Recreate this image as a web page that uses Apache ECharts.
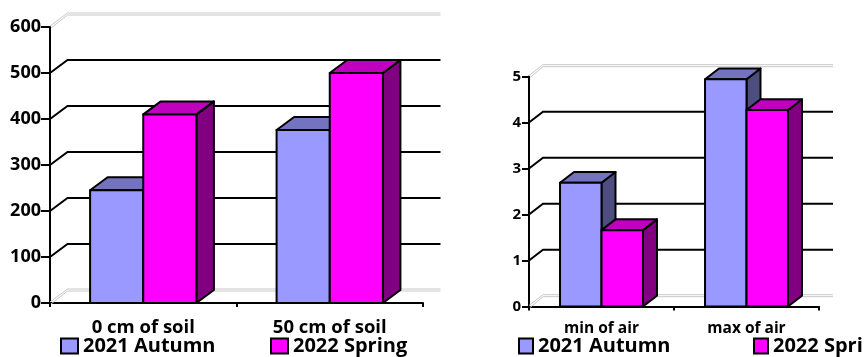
<!DOCTYPE html>
<html>
<head>
<meta charset="utf-8">
<script src="https://cdn.jsdelivr.net/npm/echarts@6/dist/echarts.min.js"></script>
<style>
  html, body { margin: 0; padding: 0; background: #fff; }
  #chart { width: 864px; height: 357px; }
</style>
</head>
<body>
<div id="chart"></div>
<script>
// Soil measurements (left panel)
const soilCategories = ['0 cm of soil', '50 cm of soil'];
const soilAutumn2021 = [245, 376];
const soilSpring2022 = [410, 500];
const soilTicks = [0, 100, 200, 300, 400, 500, 600];

// Air measurements (right panel)
const airCategories = ['min of air', 'max of air'];
const airAutumn2021 = [2.69, 4.94];
const airSpring2022 = [1.66, 4.27];
const airTicks = [0, 1, 2, 3, 4, 5];

const seriesNames = ['2021 Autumn', '2022 Spring'];

const FONT = 'Open Sans';
const FACES = [
  { front: '#9999FF', top: '#7373BF', side: '#4D4D80' },
  { front: '#FF00FF', top: '#BF00BF', side: '#800080' }
];

// Panel geometry: plot box, 3D depth offset, bar width as share of a category band
const PANELS = [
  { grid: { left: 50, top: 27, width: 373, height: 276 }, depth: [17.5, -13], ratio: 0.285,
    yLabelSize: 18, yLabelMargin: 9, yTickLen: 9, xLabelSize: 18.5, xLabelMargin: 15 },
  { grid: { left: 529, top: 76.5, width: 290, height: 230 }, depth: [14, -10.8], ratio: 0.286,
    yLabelSize: 15, yLabelMargin: 8, yTickLen: 7, xLabelSize: 15.5, xLabelMargin: 14 }
];

function barRenderer(slot, face, depth, ratio) {
  return function (params, api) {
    const cat = api.value(0);
    const val = api.value(1);
    const base = api.coord([cat, 0]);
    const top = api.coord([cat, val]);
    const band = api.size([1, 0])[0];
    const w = band * ratio;
    const x0 = base[0] - w + slot * w;
    const x1 = x0 + w;
    const dx = depth[0], dy = depth[1];
    const ty = top[1], by = base[1];
    const edge = { stroke: '#000', lineWidth: 2, lineJoin: 'round' };
    return {
      type: 'group',
      children: [
        { type: 'polygon', shape: { points: [[x1, ty], [x1 + dx, ty + dy], [x1 + dx, by + dy], [x1, by]] },
          style: Object.assign({ fill: face.side }, edge) },
        { type: 'polygon', shape: { points: [[x0, ty], [x0 + dx, ty + dy], [x1 + dx, ty + dy], [x1, ty]] },
          style: Object.assign({ fill: face.top }, edge) },
        { type: 'rect', shape: { x: x0, y: ty, width: w, height: by - ty },
          style: Object.assign({ fill: face.front }, edge) }
      ]
    };
  };
}

// Back-wall gridlines with the diagonal running along the side wall
function wallRenderer(depth, maxVal) {
  return function (params, api) {
    const v = api.value(1);
    const cs = params.coordSys;
    const y = api.coord([0, v])[1];
    const dx = depth[0], dy = depth[1];
    const x0 = cs.x, x1 = cs.x + cs.width;
    if (v !== 0 && v !== maxVal) {
      return {
        type: 'polyline',
        shape: { points: [[x0, y], [x0 + dx, y + dy], [x1 + dx, y + dy]] },
        style: { stroke: '#000', lineWidth: 2, fill: null }
      };
    }
    const light = { stroke: '#C8C8C8', lineWidth: 1, fill: null };
    return {
      type: 'group',
      children: [
        { type: 'polyline', shape: { points: [[x0, y - 1], [x0 + dx, y + dy - 1], [x1 + dx, y + dy - 1]] }, style: light },
        { type: 'polyline', shape: { points: [[x0 + 1, y + 1], [x0 + dx, y + dy + 1], [x1 + dx, y + dy + 1]] }, style: light }
      ]
    };
  };
}

const panelData = [
  { cats: soilCategories, values: [soilAutumn2021, soilSpring2022], ticks: soilTicks },
  { cats: airCategories, values: [airAutumn2021, airSpring2022], ticks: airTicks }
];

const grids = [], xAxes = [], yAxes = [], series = [];
panelData.forEach(function (pd, i) {
  const P = PANELS[i];
  const maxVal = pd.ticks[pd.ticks.length - 1];
  grids.push(Object.assign({ outerBoundsMode: 'none', containLabel: false }, P.grid));
  xAxes.push({
    gridIndex: i, type: 'category', data: pd.cats,
    axisLine: { lineStyle: { color: '#000', width: 2 } },
    axisTick: { show: true, length: 4, lineStyle: { color: '#000', width: 2 } },
    axisLabel: { color: '#000', fontFamily: FONT, fontWeight: 'bold', fontSize: P.xLabelSize, margin: P.xLabelMargin },
    splitLine: { show: false }
  });
  yAxes.push({
    gridIndex: i, type: 'value', min: 0, max: maxVal, interval: pd.ticks[1] - pd.ticks[0],
    axisLine: { show: true, lineStyle: { color: '#000', width: 2 } },
    axisTick: { show: true, length: P.yTickLen, lineStyle: { color: '#000', width: 2 } },
    axisLabel: { color: '#000', fontFamily: FONT, fontWeight: 'bold', fontSize: P.yLabelSize, margin: P.yLabelMargin },
    splitLine: { show: false }
  });
  series.push({
    type: 'custom', name: 'wall' + i, xAxisIndex: i, yAxisIndex: i, z: 1, silent: true,
    renderItem: wallRenderer(P.depth, maxVal),
    data: pd.ticks.map(function (t) { return [0, t]; })
  });
  pd.values.forEach(function (vals, s) {
    series.push({
      type: 'custom', name: seriesNames[s], xAxisIndex: i, yAxisIndex: i, z: 2,
      itemStyle: { color: FACES[s].front },
      renderItem: barRenderer(s, FACES[s], P.depth, P.ratio),
      data: vals.map(function (v, c) { return [c, v]; })
    });
  });
});

function legendAt(name, left, size) {
  return {
    data: [name], left: left, top: 336, padding: 0, orient: 'horizontal',
    icon: 'rect', itemWidth: size[0], itemHeight: size[1], itemGap: 5,
    itemStyle: { borderColor: '#000', borderWidth: 2 },
    textStyle: { color: '#000', fontFamily: FONT, fontWeight: 'bold', fontSize: 20, padding: [0, 0, 0, 0] },
    selectedMode: false
  };
}

const chart = echarts.init(document.getElementById('chart'), null, { renderer: 'canvas' });
chart.setOption({
  animation: false,
  backgroundColor: '#fff',
  grid: grids,
  xAxis: xAxes,
  yAxis: yAxes,
  legend: [
    legendAt(seriesNames[0], 60, [17, 15]),
    legendAt(seriesNames[1], 270, [17, 15]),
    legendAt(seriesNames[0], 518, [14, 15]),
    legendAt(seriesNames[1], 753, [14, 15])
  ],
  series: series
});
</script>
</body>
</html>
